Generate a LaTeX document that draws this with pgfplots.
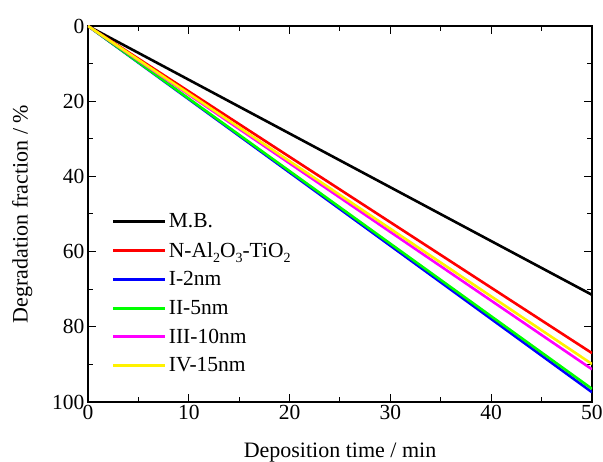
\documentclass[border=0pt]{standalone}
\usepackage{pgfplots}
\pgfplotsset{compat=1.18}
\usepackage{fontspec}
\setmainfont{Liberation Serif}
\definecolor{pmag}{rgb}{1,0,1}
\definecolor{pgreen}{rgb}{0,1,0}
\newcommand{\sub}[1]{\raisebox{-0.5ex}{\fontsize{14}{16}\selectfont #1}}

\begin{document}
\begin{tikzpicture}
\begin{axis}[
    scale only axis,
    width=504pt, height=376pt,
    xmin=0, xmax=50, ymin=0, ymax=100,
    y dir=reverse,
    xtick={0,10,...,50}, ytick={0,20,...,100},
    minor x tick num=1, minor y tick num=1,
    tick align=inside,
    major tick length=8pt, minor tick length=5pt,
    axis line style={line width=1.2pt},
    every tick/.style={line width=1pt, black},
    /pgf/number format/assume math mode=true,
    ticklabel style={font=\fontsize{21.5}{25}\selectfont},
    label style={font=\fontsize{22}{26}\selectfont},
    xlabel={Deposition time / min},
    ylabel={Degradation fraction / \%},
    xlabel style={yshift=-16pt},
    ylabel style={yshift=13pt},
    legend cell align=left,
    legend style={draw=none, fill=none, at={(0.041,0.512)}, anchor=north west,
      font=\fontsize{21.5}{25}\selectfont, row sep=9pt},
    legend image code/.code={\draw[#1] (0pt,0pt) -- (52pt,0pt);},
    legend image post style={line width=3pt},
    every axis plot/.append style={line width=2.6pt},
    ]
\addplot[black] coordinates {(0,0) (50,71.5)};
\addplot[red] coordinates {(0,0) (50,87.0)};
\addplot[blue] coordinates {(0,0) (50,97.4)};
\addplot[pgreen] coordinates {(0,0) (50,96.5)};
\addplot[pmag] coordinates {(0,0) (50,91.3)};
\addplot[yellow] coordinates {(0,0) (50,89.9)};
\legend{M.B., N-Al\sub{2}O\sub{3}-TiO\sub{2}, I-2nm, II-5nm, III-10nm, IV-15nm}
\end{axis}
\pgfresetboundingbox
\path[use as bounding box] ([shift={(-88pt,-60pt)}]current axis.south west) rectangle ([shift={(11pt,26pt)}]current axis.north east);
\end{tikzpicture}
\end{document}
